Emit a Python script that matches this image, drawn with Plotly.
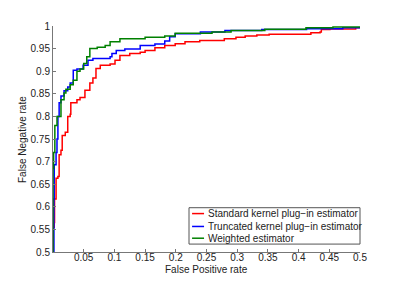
import plotly.graph_objects as go

# Standard kernel plug-in estimator
std_fpr = [0, 0.0005, 0.002, 0.0025, 0.005, 0.008, 0.010, 0.013, 0.015, 0.020, 0.024, 0.028, 0.029,
           0.039, 0.044, 0.052, 0.060, 0.065, 0.070, 0.077, 0.093, 0.101, 0.109, 0.125, 0.142, 0.150,
           0.166, 0.182, 0.199, 0.215, 0.239, 0.279, 0.298, 0.313, 0.332, 0.352, 0.420, 0.435, 0.437,
           0.451, 0.493, 0.5]
std_tpr = [0.5, 0.555, 0.565, 0.617, 0.663, 0.667, 0.715, 0.725, 0.758, 0.765, 0.800, 0.805, 0.830,
           0.837, 0.842, 0.858, 0.874, 0.885, 0.906, 0.913, 0.916, 0.924, 0.935, 0.939, 0.942, 0.946,
           0.952, 0.957, 0.961, 0.965, 0.968, 0.972, 0.975, 0.978, 0.980, 0.982, 0.985, 0.987, 0.992,
           0.9935, 0.996, 0.996]

# Truncated kernel plug-in estimator
trunc_fpr = [0, 0.0015, 0.002, 0.005, 0.0065, 0.008, 0.010, 0.013, 0.018, 0.024, 0.028, 0.033, 0.039,
             0.049, 0.057, 0.065, 0.093, 0.096, 0.103, 0.117, 0.142, 0.166, 0.182, 0.190, 0.199, 0.240,
             0.280, 0.340, 0.413, 0.472, 0.5]
trunc_tpr = [0.5, 0.617, 0.693, 0.720, 0.750, 0.800, 0.830, 0.845, 0.857, 0.865, 0.874, 0.902, 0.905,
             0.913, 0.924, 0.928, 0.932, 0.939, 0.946, 0.949, 0.957, 0.960, 0.967, 0.976, 0.983, 0.987,
             0.990, 0.992, 0.994, 0.996, 0.997]

# Weighted estimator
w_fpr = [0, 0, 0.001, 0.003, 0.0065, 0.013, 0.018, 0.021, 0.028, 0.033, 0.039, 0.044, 0.050, 0.055,
         0.060, 0.072, 0.085, 0.093, 0.109, 0.150, 0.182, 0.199, 0.259, 0.290, 0.345, 0.412, 0.456, 0.5]
w_tpr = [0.5, 0.685, 0.720, 0.780, 0.800, 0.837, 0.852, 0.860, 0.870, 0.880, 0.900, 0.905, 0.917, 0.932,
         0.950, 0.953, 0.957, 0.965, 0.972, 0.975, 0.978, 0.984, 0.987, 0.990, 0.993, 0.996, 0.998, 0.998]

series_names = ["Standard kernel plug\u2212in estimator",
                "Truncated kernel plug\u2212in estimator",
                "Weighted estimator"]
series_colors = ["#ff0000", "#0000ff", "#008000"]

x_ticks = [0.05, 0.1, 0.15, 0.2, 0.25, 0.3, 0.35, 0.4, 0.45, 0.5]
x_tick_text = ["0.05", "0.1", "0.15", "0.2", "0.25", "0.3", "0.35", "0.4", "0.45", "0.5"]
y_ticks = [0.5, 0.55, 0.6, 0.65, 0.7, 0.75, 0.8, 0.85, 0.9, 0.95, 1.0]
y_tick_text = ["0.5", "0.55", "0.6", "0.65", "0.7", "0.75", "0.8", "0.85", "0.9", "0.95", "1"]

FONT = "Liberation Sans, Arial, Helvetica, sans-serif"

fig = go.Figure()
for xs, ys, name, col in zip([std_fpr, trunc_fpr, w_fpr], [std_tpr, trunc_tpr, w_tpr],
                             series_names, series_colors):
    fig.add_trace(go.Scatter(x=xs, y=ys, mode="lines", name=name,
                             line=dict(color=col, width=1.5, shape="hv"),
                             showlegend=False))

# page body has an 8px margin, so the figure is 392x276 placed at (8,8)
fig.update_layout(
    width=392, height=276,
    margin=dict(l=45, r=40, t=14, b=32),
    paper_bgcolor="white", plot_bgcolor="white",
    font=dict(family=FONT, size=10, color="#222"),
)
fig.update_xaxes(range=[0, 0.5], tickvals=x_ticks, ticktext=x_tick_text,
                 showgrid=False, zeroline=False, showline=True, linecolor="#777", linewidth=1,
                 ticks="inside", ticklen=3, tickcolor="#777", mirror=False,
                 ticklabelstandoff=-4)
fig.update_yaxes(range=[0.5, 1.0], tickvals=y_ticks, ticktext=y_tick_text,
                 showgrid=False, zeroline=False, showline=True, linecolor="#777", linewidth=1,
                 ticks="inside", ticklen=3, tickcolor="#777", mirror=False)

# axis titles
fig.add_annotation(text="False Positive rate", xref="paper", yref="paper", x=0.5, y=-0.078,
                   xanchor="center", yanchor="middle", showarrow=False, font=dict(size=10))
fig.add_annotation(text="False Negative rate", xref="paper", yref="paper", x=-0.101, y=0.5,
                   textangle=-90, xanchor="center", yanchor="middle", showarrow=False,
                   font=dict(size=10))

# manual legend box
fig.add_shape(type="rect", xref="paper", yref="paper", x0=0.443, x1=1.0, y0=0.035, y1=0.196,
              line=dict(color="#555", width=1), fillcolor="white", layer="above")
rows = [0.170, 0.113, 0.061]
for name, col, yy in zip(series_names, series_colors, rows):
    fig.add_shape(type="line", xref="paper", yref="paper", x0=0.453, x1=0.492, y0=yy, y1=yy,
                  line=dict(color=col, width=1.5), layer="above")
    fig.add_annotation(text=name, xref="paper", yref="paper", x=0.497, y=yy,
                       xanchor="left", yanchor="middle", showarrow=False,
                       font=dict(size=10, color="#222"))

fig.write_html("out.html")
